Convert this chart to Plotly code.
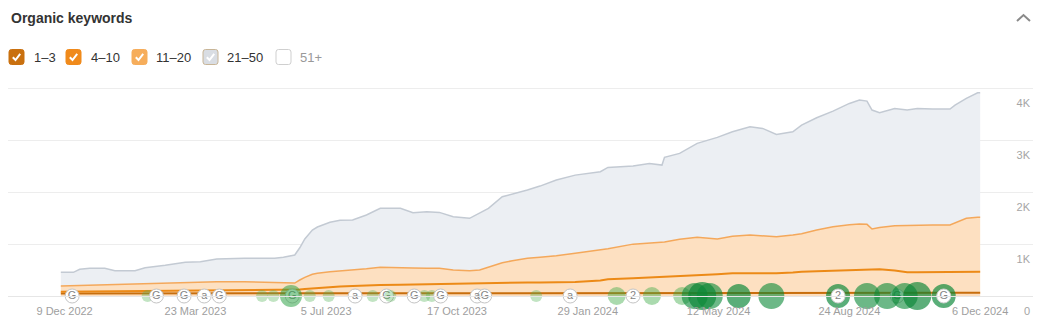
import plotly.graph_objects as go

# ---------------- data ----------------
dates = [
    "2022-12-06", "2022-12-16", "2022-12-21", "2022-12-29", "2023-01-10", "2023-01-18", "2023-02-03", "2023-02-11", "2023-02-27", "2023-03-15",
    "2023-03-27", "2023-04-09", "2023-05-01", "2023-05-25", "2023-06-01", "2023-06-10", "2023-06-14", "2023-06-18", "2023-06-24", "2023-06-28",
    "2023-07-08", "2023-07-16", "2023-07-26", "2023-08-06", "2023-08-17", "2023-09-02", "2023-09-12", "2023-09-23", "2023-10-03", "2023-10-14",
    "2023-10-27", "2023-11-04", "2023-11-11", "2023-11-22", "2023-11-30", "2023-12-12", "2023-12-22", "2024-01-04", "2024-01-19", "2024-02-08",
    "2024-02-14", "2024-03-05", "2024-03-18", "2024-03-28", "2024-03-30", "2024-04-11", "2024-04-25", "2024-05-11", "2024-05-23", "2024-06-06",
    "2024-06-16", "2024-06-27", "2024-07-10", "2024-07-17", "2024-07-29", "2024-08-11", "2024-08-24", "2024-09-01", "2024-09-07", "2024-09-11",
    "2024-09-17", "2024-09-29", "2024-10-09", "2024-10-17", "2024-10-29", "2024-11-12", "2024-11-16", "2024-11-25", "2024-12-04", "2024-12-06",
]
kw_1_3 = [
    48, 48, 50, 50, 50, 52, 52, 52, 53, 53,
    54, 54, 55, 55, 55, 55, 55, 56, 56, 56,
    56, 55, 55, 55, 55, 55, 55, 55, 55, 54,
    54, 54, 54, 54, 53, 53, 52, 52, 52, 50,
    50, 50, 50, 50, 50, 50, 52, 52, 53, 54,
    55, 56, 56, 57, 58, 58, 59, 60, 60, 60,
    60, 60, 61, 61, 62, 62, 63, 63, 64, 64,
]
kw_4_10 = [
    35, 37, 38, 40, 45, 46, 50, 52, 55, 59,
    60, 62, 61, 61, 61, 61, 70, 79, 92, 104,
    119, 130, 138, 150, 157, 163, 167, 170, 175, 178,
    186, 194, 201, 208, 211, 209, 206, 210, 218, 250,
    272, 290, 303, 312, 315, 333, 343, 366, 384, 383,
    382, 384, 399, 411, 417, 430, 441, 445, 450, 454,
    454, 430, 399, 395, 394, 398, 399, 403, 404, 404,
]
kw_11_20 = [
    110, 115, 122, 125, 130, 132, 138, 141, 147, 153,
    158, 160, 160, 144, 141, 134, 183, 225, 272, 280,
    293, 295, 307, 320, 341, 335, 318, 308, 303, 268,
    248, 252, 298, 378, 416, 464, 487, 513, 555, 593,
    588, 660, 667, 665, 675, 709, 736, 682, 713, 738,
    723, 703, 720, 732, 797, 847, 875, 882, 871, 777,
    806, 865, 900, 912, 912, 908, 950, 1031, 1048, 1048,
]
kw_21_50 = [
    263, 256, 304, 318, 308, 258, 248, 300, 336, 384,
    389, 437, 450, 466, 488, 540, 622, 740, 852, 890,
    952, 980, 964, 1036, 1137, 1137, 1065, 1092, 1079, 1028,
    1009, 1093, 1137, 1273, 1279, 1316, 1374, 1460, 1505, 1502,
    1569, 1505, 1536, 1497, 1632, 1657, 1811, 1958, 2016, 2087,
    2071, 1972, 1991, 2095, 2164, 2230, 2337, 2389, 2376, 2293,
    2212, 2261, 2224, 2248, 2235, 2235, 2268, 2312, 2401, 2401,
]

# events on the timeline (letter markers)
event_dates = ["2022-12-15", "2023-02-20", "2023-03-14", "2023-03-30", "2023-04-11", "2023-06-08",
               "2023-07-28", "2023-08-22", "2023-09-13", "2023-10-04", "2023-11-02", "2023-11-08",
               "2024-01-15", "2024-03-05", "2024-10-01"]
event_labels = ["G", "G", "G", "a", "G", "G", "a", "G", "G", "G", "a", "G", "a", "2", "G"]

# small light bubbles (drawn below letter markers)
small_bubble_dates = ["2023-02-13", "2023-05-15", "2023-05-24", "2023-06-22", "2023-07-07",
                      "2023-08-11", "2023-09-21", "2023-09-27", "2023-12-19"]
small_bubble_counts = [1, 1, 1, 1, 1, 1, 1, 1, 1]

# larger bubbles (drawn above)
bubble_dates = ["2023-06-07", "2023-08-25", "2024-02-21", "2024-03-20", "2024-04-13", "2024-04-23",
                "2024-04-29", "2024-05-05", "2024-05-28", "2024-06-23", "2024-08-15", "2024-09-07",
                "2024-09-23", "2024-10-07", "2024-10-17", "2024-11-07"]
bubble_counts = [3, 1, 2, 2, 2, 5, 6, 5, 4, 5, 4, 5, 5, 5, 6, 4]

# letter markers sitting on top of big bubbles
ring_dates = ["2024-08-15", "2024-11-07"]
ring_labels = ["2", "G"]

x_tickvals = ["2022-12-09", "2023-03-23", "2023-07-05", "2023-10-17", "2024-01-29", "2024-05-12", "2024-08-24", "2024-12-06"]
x_ticktext = ["9 Dec 2022", "23 Mar 2023", "5 Jul 2023", "17 Oct 2023", "29 Jan 2024", "12 May 2024", "24 Aug 2024", "6 Dec 2024"]
y_tickvals = [0, 1000, 2000, 3000, 4000]
y_ticktext = ["0", "1K", "2K", "3K", "4K"]

legend_names = ["1–3", "4–10", "11–20", "21–50", "51+"]

# ---------------- layout geometry ----------------
W, H = 1047, 326
L, R, T, B = 8, 14, 87, 30
PW, PH = W - L - R, H - T - B
FONT = "Liberation Sans, Arial, sans-serif"


def px(x):
    return (x - L) / PW


def py(y):
    return (H - B - y) / PH


def bubble_size(c):
    return {1: 12, 2: 18, 3: 22, 4: 24, 5: 26, 6: 28}[c]


def bubble_color(c):
    return {1: "rgba(80,178,84,0.50)", 2: "rgba(60,170,70,0.62)", 3: "rgba(40,160,65,0.75)",
            4: "rgba(8,134,54,0.95)", 5: "rgba(12,138,56,0.86)", 6: "rgba(6,130,50,0.93)"}[c]


fig = go.Figure()

series = [
    ("1–3", kw_1_3, "#c86e0c", "rgba(253,222,190,1)", 2),
    ("4–10", kw_4_10, "#ec8a17", "rgba(253,224,193,1)", 2),
    ("11–20", kw_11_20, "#f4a85b", "rgba(253,224,193,1)", 1.5),
    ("21–50", kw_21_50, "#c3cad3", "rgba(236,239,243,1)", 1.5),
]
for name, vals, lc, fc, lw in series:
    fig.add_trace(go.Scatter(
        x=dates, y=vals, name=name, mode="lines", stackgroup="kw",
        line=dict(color=lc, width=lw, shape="linear"), fillcolor=fc,
        hoverinfo="skip", showlegend=False,
    ))

fig.add_trace(go.Scatter(
    x=small_bubble_dates, y=[0] * len(small_bubble_dates), mode="markers",
    marker=dict(size=[bubble_size(c) for c in small_bubble_counts],
                color=[bubble_color(c) for c in small_bubble_counts], line=dict(width=0)),
    cliponaxis=False, hoverinfo="skip", showlegend=False,
))
fig.add_trace(go.Scatter(
    x=event_dates, y=[0] * len(event_dates), mode="markers+text", text=event_labels,
    textposition="middle center", textfont=dict(family=FONT, size=11, color="#858585"),
    marker=dict(size=14, color="white", line=dict(color="#c4c4c4", width=1)),
    cliponaxis=False, hoverinfo="skip", showlegend=False,
))
fig.add_trace(go.Scatter(
    x=bubble_dates, y=[0] * len(bubble_dates), mode="markers",
    marker=dict(size=[bubble_size(c) for c in bubble_counts],
                color=[bubble_color(c) for c in bubble_counts], line=dict(width=0)),
    cliponaxis=False, hoverinfo="skip", showlegend=False,
))
fig.add_trace(go.Scatter(
    x=ring_dates, y=[0] * len(ring_dates), mode="markers+text", text=ring_labels,
    textposition="middle center", textfont=dict(family=FONT, size=11, color="#858585"),
    marker=dict(size=14, color="white", line=dict(color="#d0d0d0", width=1)),
    cliponaxis=False, hoverinfo="skip", showlegend=False,
))

shapes = []
annotations = []

# title
annotations.append(dict(x=px(9), y=py(18), xref="paper", yref="paper", xanchor="left", yanchor="middle",
                        text="<b>Organic keywords</b>", showarrow=False,
                        font=dict(family=FONT, size=14, color="#333333")))

# zero label of the value axis (sits on the date-label row, outside the plot area)
annotations.append(dict(x=px(1032), y=py(311), xref="paper", yref="paper", xanchor="right", yanchor="middle",
                        text=y_ticktext[0], showarrow=False,
                        font=dict(family=FONT, size=11, color="#a5a5a5")))

# collapse chevron
shapes.append(dict(type="path", xref="paper", yref="paper",
                   path=f"M {px(1017)} {py(21)} L {px(1023.5)} {py(15)} L {px(1030)} {py(21)}",
                   line=dict(color="#8a8a8a", width=2)))


def rounded_rect(x0, y0, x1, y1, r):
    pts = [
        ("M", (x0 + r, y0)), ("L", (x1 - r, y0)), ("Q", (x1, y0), (x1, y0 + r)),
        ("L", (x1, y1 - r)), ("Q", (x1, y1), (x1 - r, y1)), ("L", (x0 + r, y1)),
        ("Q", (x0, y1), (x0, y1 - r)), ("L", (x0, y0 + r)), ("Q", (x0, y0), (x0 + r, y0)),
    ]
    s = ""
    for p in pts:
        cmd = p[0]
        coords = " ".join(f"{px(a)},{py(b)}" for a, b in p[1:])
        s += f"{cmd} {coords} "
    return s + "Z"


box_x = [9, 66, 132, 203, 276]
text_x = [32, 88.5, 154, 225, 298]
box_fill = ["#c9700f", "#f08a1b", "#f6ad5b", "#d9dde3", "#ffffff"]
box_line = ["#c9700f", "#f08a1b", "#f6ad5b", "#c8b597", "#cfcfcf"]
checked = [True, True, True, True, False]
text_col = ["#333333", "#333333", "#333333", "#333333", "#999999"]
by0, by1 = 49.5, 64.5
for i, name in enumerate(legend_names):
    x0 = box_x[i]
    shapes.append(dict(type="path", xref="paper", yref="paper",
                       path=rounded_rect(x0, by0, x0 + 15, by1, 2.5),
                       fillcolor=box_fill[i], line=dict(color=box_line[i], width=1)))
    if checked[i]:
        shapes.append(dict(type="path", xref="paper", yref="paper",
                           path=f"M {px(x0 + 3.8)} {py(57.2)} L {px(x0 + 6.5)} {py(60)} L {px(x0 + 11.2)} {py(53.8)}",
                           line=dict(color="white", width=2)))
    annotations.append(dict(x=px(text_x[i]), y=py(57.5), xref="paper", yref="paper",
                            xanchor="left", yanchor="middle", text=name, showarrow=False,
                            font=dict(family=FONT, size=13, color=text_col[i])))

fig.update_layout(
    width=W, height=H,
    margin=dict(l=L, r=R, t=T, b=B, pad=0),
    paper_bgcolor="white", plot_bgcolor="white",
    font=dict(family=FONT, size=11, color="#999999"),
    hovermode=False,
    showlegend=False,
    shapes=shapes,
    annotations=annotations,
    xaxis=dict(
        type="date", range=["2022-10-25", "2025-01-17"],
        tickvals=x_tickvals, ticktext=x_ticktext, showgrid=False, zeroline=False,
        showline=True, linecolor="#e6e6e6", linewidth=1, ticks="",
        ticklabelstandoff=5,
        tickfont=dict(family=FONT, size=11, color="#9e9e9e"),
        fixedrange=True,
    ),
    yaxis=dict(
        range=[0, 4029], side="right", tickvals=y_tickvals, ticktext=y_ticktext,
        showgrid=True, gridcolor="#ededed", gridwidth=1, zeroline=False, showline=False,
        ticks="", ticklabelposition="inside", ticklabelshift=15,
        tickfont=dict(family=FONT, size=11, color="#a5a5a5"),
        fixedrange=True,
    ),
)

fig.write_html("out.html")
